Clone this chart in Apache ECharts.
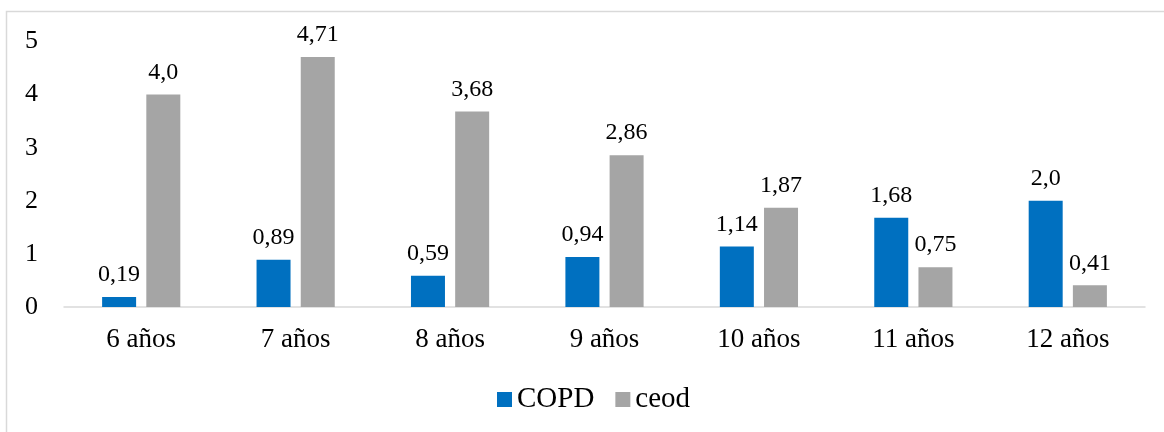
<!DOCTYPE html>
<html>
<head>
<meta charset="utf-8">
<script src="https://cdn.jsdelivr.net/npm/echarts@6/dist/echarts.min.js"></script>
<style>
  html, body { margin: 0; padding: 0; background: #fff; }
  #chart { width: 1164px; height: 432px; }
</style>
</head>
<body>
<div id="chart"></div>
<script>
// Age groups and index values per group
const categories = ['6 años', '7 años', '8 años', '9 años', '10 años', '11 años', '12 años'];
const copdValues = [0.19, 0.89, 0.59, 0.94, 1.14, 1.68, 2.0];
const ceodValues = [4.0, 4.71, 3.68, 2.86, 1.87, 0.75, 0.41];
const yTicks = [0, 1, 2, 3, 4, 5];

const FONT = '"Liberation Serif", "Times New Roman", serif';

// Decimal comma; whole numbers keep one decimal ("4,0")
function fmt(v) {
  const s = Number.isInteger(v) ? v.toFixed(1) : String(v);
  return s.replace('.', ',');
}

const chart = echarts.init(document.getElementById('chart'));

const labelStyle = {
  show: true,
  position: 'top',
  distance: 10,
  fontFamily: FONT,
  fontSize: 24,
  color: '#000',
  formatter: p => fmt(p.value)
};

chart.setOption({
  animation: false,
  graphic: [{
    type: 'rect',
    shape: { x: 6.5, y: 11.5, width: 1170, height: 440 },
    style: { fill: 'none', stroke: '#d9d9d9', lineWidth: 1.5 },
    silent: true
  }],
  grid: { left: 64, right: 19, top: 41.5, bottom: 125 },
  legend: {
    left: 492,
    top: 380,
    itemWidth: 15,
    itemHeight: 15,
    itemGap: 21,
    icon: 'rect',
    textStyle: { fontFamily: FONT, fontSize: 29, color: '#000' },
    data: ['COPD', 'ceod']
  },
  xAxis: {
    type: 'category',
    data: categories,
    axisLine: { lineStyle: { color: '#d9d9d9', width: 1.5 } },
    axisTick: { show: false },
    axisLabel: { fontFamily: FONT, fontSize: 27, color: '#000', margin: 19 }
  },
  yAxis: {
    type: 'value',
    min: yTicks[0],
    max: yTicks[yTicks.length - 1],
    interval: 1,
    splitLine: { show: false },
    axisLine: { show: false },
    axisTick: { show: false },
    axisLabel: { fontFamily: FONT, fontSize: 26, color: '#000', margin: 26 }
  },
  series: [
    {
      name: 'COPD',
      type: 'bar',
      data: copdValues,
      barWidth: 34,
      barGap: '30%',
      itemStyle: { color: '#0070c0' },
      label: labelStyle
    },
    {
      name: 'ceod',
      type: 'bar',
      data: ceodValues,
      barWidth: 34,
      itemStyle: { color: '#a5a5a5' },
      label: labelStyle
    }
  ]
});
</script>
</body>
</html>
